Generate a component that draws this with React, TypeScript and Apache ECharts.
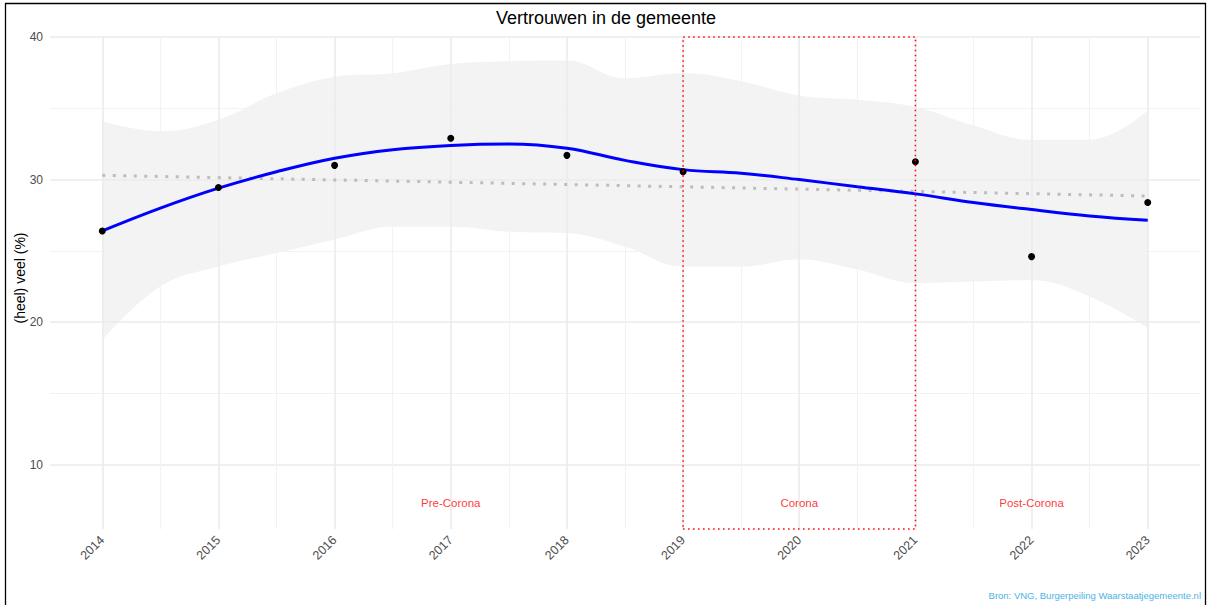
import React, { useEffect, useRef } from "react";
import * as echarts from "echarts";

const chartTitle = "Vertrouwen in de gemeente";
const yAxisTitle = "(heel) veel (%)";
const sourceText = "Bron: VNG, Burgerpeiling Waarstaatjegemeente.nl";

const years = [2014, 2015, 2016, 2017, 2018, 2019, 2021, 2022, 2023];
const values = [26.4, 29.45, 31.0, 32.9, 31.7, 30.55, 31.25, 24.6, 28.4];

const xTicks = [2014, 2015, 2016, 2017, 2018, 2019, 2020, 2021, 2022, 2023];
const xMinorTicks = [2014.5, 2015.5, 2016.5, 2017.5, 2018.5, 2019.5, 2020.5, 2021.5, 2022.5];
const yTicks = [10, 20, 30, 40];
const yMinorTicks = [15, 25, 35];

const smoothX = [2014, 2014.5, 2015, 2015.5, 2016, 2016.5, 2017, 2017.5, 2018, 2018.5, 2019, 2019.5, 2020, 2020.5, 2021, 2021.5, 2022, 2022.5, 2023];
const smoothY = [26.4, 28.0, 29.4, 30.55, 31.5, 32.1, 32.4, 32.5, 32.2, 31.35, 30.7, 30.45, 30.0, 29.5, 29.0, 28.4, 27.9, 27.45, 27.15];
const ribbonUpper = [34.1, 33.4, 34.2, 36.05, 37.2, 37.45, 38.1, 38.3, 38.35, 37.1, 37.45, 36.9, 35.9, 35.6, 35.1, 33.8, 32.8, 32.8, 34.85];
const ribbonLower = [18.75, 22.5, 23.9, 24.85, 25.8, 26.7, 26.7, 26.35, 26.25, 25.3, 23.9, 23.9, 24.4, 23.7, 22.75, 22.85, 22.95, 21.8, 19.6];

const trendX = [2014, 2023];
const trendY = [30.3, 28.85];

const periodNames = ["Pre-Corona", "Corona", "Post-Corona"];
const periodX = [2017, 2020, 2022];
const periodLabelY = 7.3;
const coronaStart = 2019;
const coronaEnd = 2021;

const xMin = 2013.55;
const xMax = 2023.45;
const yMin = 5.5;
const yMax = 40;

const FONT = "'Liberation Sans', Arial, Helvetica, sans-serif";

export default function App() {
  const ref = useRef<HTMLDivElement>(null);

  useEffect(() => {
    if (!ref.current) return;
    const chart = echarts.init(ref.current, undefined, { renderer: "svg" });

    const gridLineData: any[] = [
      ...yTicks.map((v) => ({ yAxis: v, lineStyle: { color: "#ebebeb", width: 1.6, type: "solid" } })),
      ...yMinorTicks.map((v) => ({ yAxis: v, lineStyle: { color: "#f2f2f2", width: 1, type: "solid" } })),
      ...xTicks.map((v) => ({ xAxis: v, lineStyle: { color: "#ebebeb", width: 1.6, type: "solid" } })),
      ...xMinorTicks.map((v) => ({ xAxis: v, lineStyle: { color: "#f2f2f2", width: 1, type: "solid" } })),
    ];

    const option: any = {
      animation: false,
      textStyle: { fontFamily: FONT },
      grid: { left: 50, right: 8, top: 37, bottom: 76, containLabel: false },
      xAxis: {
        type: "value",
        min: xMin,
        max: xMax,
        axisLine: { show: false },
        axisTick: { show: false, customValues: xTicks },
        splitLine: { show: false },
        axisLabel: {
          customValues: xTicks,
          rotate: 45,
          margin: 9,
          color: "#4d4d4d",
          fontSize: 12.5,
          fontFamily: FONT,
          formatter: (v: number) => String(Math.round(v)),
        },
      },
      yAxis: {
        type: "value",
        min: yMin,
        max: yMax,
        splitNumber: 4,
        axisLine: { show: false },
        axisTick: { show: false, customValues: yTicks },
        splitLine: { show: false },
        axisLabel: {
          customValues: yTicks,
          margin: 7,
          color: "#4d4d4d",
          fontSize: 12,
          fontFamily: FONT,
        },
      },
      graphic: [
        {
          type: "rect",
          silent: true,
          shape: { x: 5.5, y: 3.5, width: 1200, height: 640 },
          style: { fill: "none", stroke: "#000", lineWidth: 1.3 },
          z: 100,
        },
        {
          type: "text",
          x: 606,
          y: 18,
          style: {
            text: chartTitle,
            fontSize: 18,
            fontFamily: FONT,
            fill: "#000",
            textAlign: "center",
            textVerticalAlign: "middle",
          },
        },
        {
          type: "text",
          x: 20,
          y: 278,
          rotation: Math.PI / 2,
          style: {
            text: yAxisTitle,
            fontSize: 14,
            fontFamily: FONT,
            fill: "#000",
            textAlign: "center",
            textVerticalAlign: "middle",
          },
        },
        {
          type: "text",
          x: 1201,
          y: 595,
          style: {
            text: sourceText,
            fontSize: 9.5,
            fontFamily: FONT,
            fill: "#4db3e6",
            textAlign: "right",
            textVerticalAlign: "middle",
          },
        },
      ],
      series: [
        {
          name: "ribbonUpper",
          type: "line",
          data: smoothX.map((x, i) => [x, ribbonUpper[i]]),
          symbol: "none",
          smooth: 0.4,
          lineStyle: { opacity: 0, width: 0 },
          areaStyle: { color: "#f3f3f3", opacity: 1, origin: "start" },
          silent: true,
          z: 1,
        },
        {
          name: "ribbonLower",
          type: "line",
          data: smoothX.map((x, i) => [x, ribbonLower[i]]),
          symbol: "none",
          smooth: 0.4,
          lineStyle: { opacity: 0, width: 0 },
          areaStyle: { color: "#ffffff", opacity: 1, origin: "start" },
          silent: true,
          z: 1,
        },
        {
          name: "grid",
          type: "line",
          data: [[xMin, yMin]],
          symbol: "none",
          lineStyle: { opacity: 0 },
          silent: true,
          z: 2,
          markLine: {
            z: 2,
            silent: true,
            symbol: "none",
            label: { show: false },
            emphasis: { disabled: true },
            data: gridLineData,
          },
        },
        {
          name: "trend",
          type: "line",
          data: trendX.map((x, i) => [x, trendY[i]]),
          symbol: "none",
          lineStyle: { color: "#bdbdbd", width: 3, type: [3, 7.5], cap: "butt" },
          silent: true,
          z: 3,
        },
        {
          name: "smooth",
          type: "line",
          data: smoothX.map((x, i) => [x, smoothY[i]]),
          symbol: "none",
          smooth: 0.4,
          lineStyle: { color: "#0000ff", width: 3 },
          silent: true,
          z: 4,
        },
        {
          name: "points",
          type: "scatter",
          data: years.map((x, i) => [x, values[i]]),
          symbol: "circle",
          symbolSize: 7,
          itemStyle: { color: "#000000", opacity: 1 },
          silent: true,
          z: 5,
        },
        {
          name: "periods",
          type: "scatter",
          data: periodNames.map((n, i) => ({ name: n, value: [periodX[i], periodLabelY] })),
          symbolSize: 0,
          silent: true,
          z: 6,
          label: {
            show: true,
            position: "inside",
            formatter: "{b}",
            color: "#ff0000",
            fontSize: 11.5,
            fontFamily: FONT,
          },
          markArea: {
            z: 7,
            silent: true,
            label: { show: false },
            itemStyle: {
              color: "rgba(0,0,0,0)",
              borderColor: "#ff0000",
              borderWidth: 1.5,
              borderType: [1.5, 3.5],
            },
            data: [[{ xAxis: coronaStart, yAxis: yMin }, { xAxis: coronaEnd, yAxis: yMax }]],
          },
        },
      ],
    };

    chart.setOption(option);
    return () => chart.dispose();
  }, []);

  return (
    <div
      ref={ref}
      style={{ position: "absolute", left: 0, top: 0, width: 1208, height: 605, background: "#fff" }}
    />
  );
}
